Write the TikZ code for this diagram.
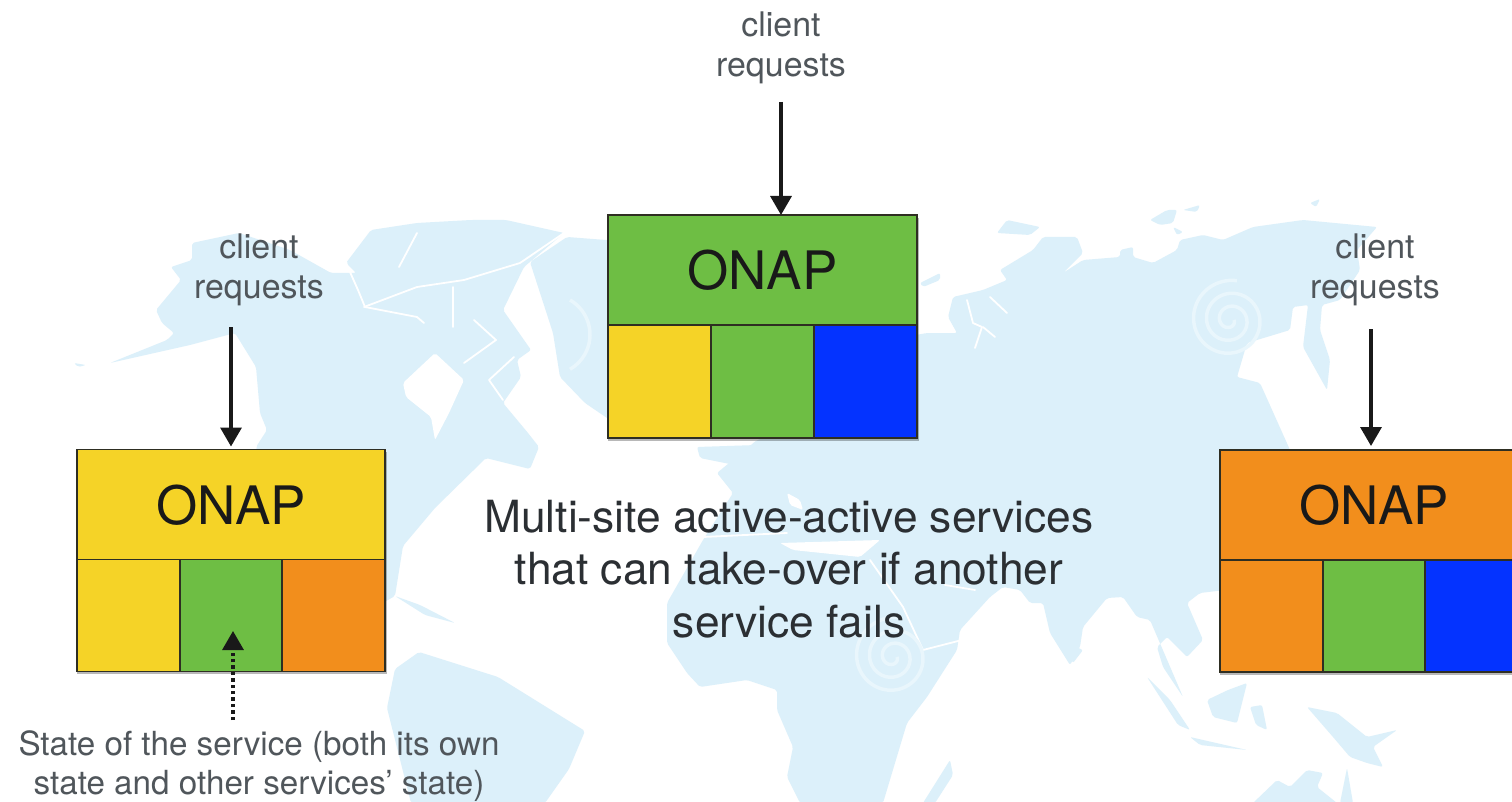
\documentclass[tikz,border=0pt]{standalone}
\usepackage{fontspec}
\setmainfont{TeX Gyre Heros}
\usetikzlibrary{arrows.meta}
\definecolor{mapblue}{HTML}{DCF0FA}
\definecolor{swirl}{HTML}{E9F6FC}
\definecolor{onapyellow}{HTML}{F5D327}
\definecolor{onapgreen}{HTML}{6EBE44}
\definecolor{onaporange}{HTML}{F28E1C}
\definecolor{onapblue}{HTML}{0433FF}
\definecolor{edgedark}{HTML}{2E2E22}
\definecolor{txtdark}{HTML}{2B2F33}
\definecolor{txtgrey}{HTML}{50565B}
\newcommand{\swirlat}[2]{\draw[swirlring] plot[domain=0:1000,samples=90,smooth]
  ({#1+(4+0.036*\x)*cos(\x)},{#2+(4+0.036*\x)*sin(\x)});}
\tikzset{
  x=1pt,y=-1pt,
  land/.style={fill=mapblue,draw=none,rounded corners=2pt},
  sea/.style={fill=white,draw=none,rounded corners=2pt},
  channel/.style={draw=white,line width=1.8pt,line join=round,line cap=round},
  swirlring/.style={draw=swirl,line width=3.5pt},
  boxshadow/.style={fill=black,opacity=.28,draw=none},
  cell/.style={draw=edgedark,line width=1.8pt,inner sep=0pt,outer sep=0pt},
  topcell/.style={cell,minimum width=308pt,minimum height=110pt,
     font=\fontsize{53}{53}\selectfont,text=black!90,text depth=0pt},
  smallcell/.style={cell,minimum width=102.7pt,minimum height=112pt},
  clientlabel/.style={align=center,text=txtgrey,inner sep=0pt,
     font=\fontsize{33.9}{40}\selectfont},
  mainlabel/.style={align=center,text=txtdark,inner sep=0pt,
     font=\fontsize{44.3}{52.5}\selectfont},
  statelabel/.style={align=center,text=txtgrey,inner sep=0pt,
     font=\fontsize{33.2}{39}\selectfont},
  flow/.style={draw=black!90,line width=3.4pt,-{Triangle[length=19pt,width=21pt]}},
  stateflow/.style={draw=black!90,line width=3.2pt,dash pattern=on 3.4pt off 3pt,-{Triangle[length=19pt,width=21pt]}},
}
\begin{document}
\begin{tikzpicture}
\useasboundingbox (0,0) rectangle (1512,802);
\clip (0,0) rectangle (1512,802);
\fill[white] (0,0) rectangle (1512,802);
% --- map: North America
\path[land] (110,363) -- (167,340) -- (174,333) -- (162,323) -- (156,310) -- (181,280) -- (171,267)
  -- (192,260) -- (192,243) -- (239,233) -- (290,250) -- (331,273) -- (356,273) -- (346,263)
  -- (371,230) -- (417,223) -- (471,220) -- (506,220) -- (564,233) -- (524,267) -- (503,310)
  -- (531,350) -- (517,360) -- (521,377) -- (503,403) -- (528,433) -- (539,447) -- (530,469)
  -- (486,458) -- (435,508) -- (403,546) -- (395,596) -- (370,610) -- (300,640) -- (256,447)
  -- (267,430) -- (260,413) -- (256,367) -- (235,333) -- (190,345) -- cycle;
\path[land] (74,363) -- (86,365) -- (78,367) -- cycle;
\path[land] (395,596) -- (420,605) -- (455,623) -- (425,615) -- cycle;
% Greenland
\path[land] (530,262) -- (567,237) -- (606,240) -- (900,260) -- (900,400) -- (700,430)
  -- (610,420) -- (585,403) -- (560,377) -- (553,333) -- cycle;
% South America
\path[land] (395,669) -- (419,652) -- (498,677) -- (585,731) -- (569,769) -- (545,803) -- (411,803)
  -- (387,708) -- cycle;
% Eurasia and Africa
\path[land] (910,336) -- (927,333) -- (957,333) -- (948,317) -- (953,297) -- (983,290) -- (1007,280) -- (1000,270)
  -- (1033,250) -- (1043,237) -- (1077,237) -- (1083,253) -- (1063,273) -- (1083,260) -- (1120,257)
  -- (1120,250) -- (1133,247) -- (1133,257) -- (1153,263) -- (1177,250) -- (1180,240) -- (1203,235)
  -- (1223,240) -- (1253,227) -- (1303,220) -- (1377,227) -- (1357,250) -- (1360,270) -- (1340,300)
  -- (1322,305) -- (1320,330) -- (1330,360) -- (1327,390) -- (1303,347) -- (1308,305) -- (1293,307)
  -- (1290,330) -- (1247,343) -- (1237,377) -- (1260,383) -- (1290,450) -- (1290,600) -- (1225,590)
  -- (1200,593) -- (1187,603) -- (1203,640) -- (1187,657) -- (1167,637) -- (1157,647) -- (1163,667)
  -- (1183,697) -- (1150,620) -- (1137,617) -- (1123,597) -- (1107,598) -- (1083,627) -- (1080,647)
  -- (1070,665) -- (1050,633) -- (1043,603) -- (1030,603) -- (1020,590) -- (1003,587) -- (990,597)
  -- (960,630) -- (957,650) -- (927,697) -- (907,723) -- (883,803) -- (800,803)
  -- (787,777) -- (793,747) -- (777,710) -- (777,690) -- (747,680) -- (700,687) -- (687,673)
  -- (667,643) -- (667,603) -- (703,540) -- (733,493) -- (717,473) -- (757,440) -- (800,430) -- cycle;
% Iceland
\path[land] (697,447) -- (757,445) -- (735,465) -- (700,458) -- cycle;
% Islands
\path[land] (997,233) -- (1007,220) -- (1040,227) -- (1030,235) -- cycle;
\path[land] (920,283) -- (940,273) -- (940,280) -- (923,287) -- cycle;
\path[land] (1150,220) -- (1167,210) -- (1177,210) -- (1173,223) -- (1160,225) -- cycle;
\path[land] (1183,210) -- (1200,205) -- (1197,212) -- cycle;
\path[land] (1173,227) -- (1183,232) -- (1177,235) -- cycle;
\path[land] (1310,203) -- (1320,199) -- (1316,207) -- cycle;
\path[land] (1060,640) -- (1083,650) -- (1073,663) -- cycle;
\path[land] (950,760) -- (953,775) -- (935,803) -- (923,803) -- cycle;
\path[land] (1147,677) -- (1170,700) -- (1190,730) -- (1178,725) -- cycle;
\path[land] (1207,700) -- (1228,690) -- (1247,683) -- (1237,723) -- (1213,717) -- cycle;
\path[land] (1190,737) -- (1247,750) -- (1200,745) -- cycle;
\path[land] (1250,707) -- (1262,705) -- (1267,730) -- (1256,725) -- cycle;
\path[land] (1307,707) -- (1337,713) -- (1367,737) -- (1397,730) -- (1373,747) -- (1383,767)
  -- (1367,763) -- (1350,757) -- (1333,737) -- cycle;
\path[land] (1253,803) -- (1277,780) -- (1290,787) -- (1307,770) -- (1323,773) -- (1317,787)
  -- (1337,803) -- cycle;
\path[land] (1347,768) -- (1353,803) -- (1340,803) -- cycle;
% seas
\path[sea] (403,383) -- (435,353) -- (464,380) -- (449,413) -- (435,440) -- (431,417) -- (406,397) -- cycle;
\path[sea] (780,543) -- (880,540) -- (860,557) -- (793,550) -- cycle;
\path[sea] (787,493) -- (800,500) -- (803,510) -- (790,505) -- cycle;
\draw[channel] (703,537) -- (787,533);
\draw[channel] (870,560) -- (903,607) -- (923,650) -- (962,640);
\draw[channel] (945,585) -- (975,590);
\draw[channel] (564,233) -- (520,263) -- (464,280) -- (417,287) -- (364,307);
\draw[channel] (417,233) -- (399,267);
\draw[channel] (453,287) -- (453,327);
\draw[channel] (474,320) -- (496,340) -- (464,363);
\draw[channel] (514,357) -- (489,380) -- (503,400);
\draw[channel] (346,263) -- (358,290) -- (365,307) -- (417,317) -- (424,323);
\draw[channel] (967,300) -- (973,323) -- (982,327) -- (975,348);
\draw[channel] (990,297) -- (1007,313);
\draw[channel] (983,327) -- (995,337);
% watermark swirls
\swirlat{1230}{320}
\swirlat{893}{657}
\draw[swirlring] (570,300) arc[start angle=-60,end angle=60,radius=40];
% --- box shadows
\fill[boxshadow] (608,218) rectangle (919,441);
\fill[boxshadow] (77,452) rectangle (387,674);
\fill[boxshadow] (1220,452) rectangle (1512,675);
% --- centre ONAP
\node[topcell,fill=onapgreen,minimum width=309pt] (ctop) at (762.5,270) {ONAP};
\node[smallcell,fill=onapyellow,minimum width=103pt,minimum height=113pt] (cA) at (659.5,381.5) {};
\node[smallcell,fill=onapgreen,minimum width=103pt,minimum height=113pt] (cB) at (762.5,381.5) {};
\node[smallcell,fill=onapblue,minimum width=103pt,minimum height=113pt] (cC) at (865.5,381.5) {};
% --- left ONAP
\node[topcell,fill=onapyellow] (ltop) at (231,504.5) {ONAP};
\node[smallcell,fill=onapyellow] (lA) at (128.3,615.5) {};
\node[smallcell,fill=onapgreen] (lB) at (231,615.5) {};
\node[smallcell,fill=onaporange] (lC) at (333.7,615.5) {};
% --- right ONAP
\node[topcell,fill=onaporange] (rtop) at (1374,505) {ONAP};
\node[smallcell,fill=onaporange] (rA) at (1271.3,616) {};
\node[smallcell,fill=onapgreen] (rB) at (1374,616) {};
\node[smallcell,fill=onapblue] (rC) at (1476.7,616) {};
% --- labels
\node[clientlabel] (cl) at (781,48) {client\\requests};
\node[clientlabel] (ll) at (259,270) {client\\requests};
\node[clientlabel] (rl) at (1375,270) {client\\requests};
\node[mainlabel] (main) at (789,569) {Multi-site active-active services\\that can take-over if another\\service fails};
\node[statelabel] (state) at (259,766) {State of the service (both its own\\state and other services’ state)};
% --- connectors
\coordinate (cs) at (781,102);
\coordinate (ls) at (231,327);
\coordinate (rs) at (1371,329);
\coordinate (ss) at (233,720);
\coordinate (se) at (233,631);
\draw[flow] (cs) -- (cs |- ctop.north);
\draw[flow] (ls) -- ([yshift=3pt]ls |- ltop.north);
\draw[flow] (rs) -- ([yshift=4pt]rs |- rtop.north);
\draw[stateflow] (ss) -- (se);
\end{tikzpicture}
\end{document}
